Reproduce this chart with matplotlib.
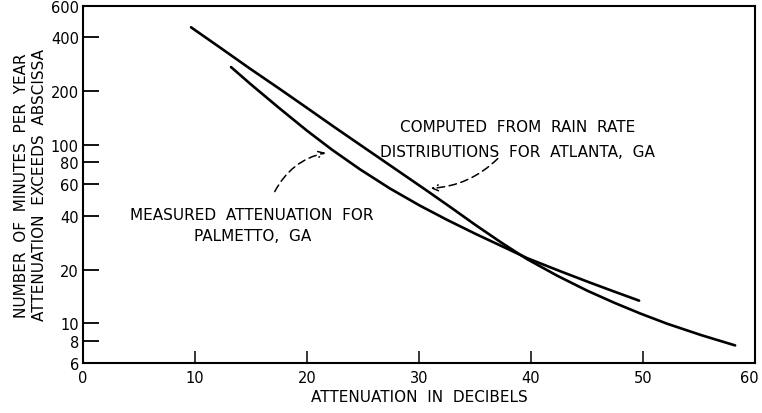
import matplotlib.pyplot as plt
from matplotlib.ticker import FixedLocator, FixedFormatter, NullLocator
from matplotlib.transforms import ScaledTranslation

# attenuation (dB) vs. minutes per year that the attenuation is exceeded
computed_db = [9.64, 12.32, 14.96, 17.5, 20.0, 22.5, 25.0, 27.86, 30.71, 32.86,
               35.0, 37.32, 39.64, 42.32, 45.0, 47.41, 49.73, 52.14, 55.18, 58.21]
computed_min = [456, 348, 266, 207, 161, 125, 97.5, 73.4, 55.3, 44.5,
                35.7, 28.4, 22.9, 18.5, 15.25, 13.05, 11.36, 9.95, 8.59, 7.52]

measured_db = [13.21, 14.96, 17.5, 20.0, 22.23, 24.73, 27.41, 30.09, 32.5, 35.0,
               37.86, 39.64, 42.59, 45.27, 47.5, 49.64]
measured_min = [273, 219, 161, 120, 93.9, 72.9, 56.9, 45.6, 38.0, 31.8,
                26.2, 23.2, 19.6, 16.9, 15.0, 13.4]

y_ticks = [6, 8, 10, 20, 40, 60, 80, 100, 200, 400, 600]
x_ticks = [0, 10, 20, 30, 40, 50, 60]

plt.rcParams['font.family'] = 'DejaVu Sans'
plt.rcParams['font.size'] = 10.5

fig = plt.figure(figsize=(7.62, 4.14), dpi=100)
ax = fig.add_axes([0.109, 0.121, 0.882, 0.862])

ax.plot(computed_db, computed_min, color='black', lw=1.9,
        solid_capstyle='round', solid_joinstyle='round')
ax.plot(measured_db, measured_min, color='black', lw=1.9,
        solid_capstyle='round', solid_joinstyle='round')

ax.set_yscale('log')
ax.set_xlim(0, 60)
ax.set_ylim(6, 600)

ax.yaxis.set_major_locator(FixedLocator(y_ticks))
ax.yaxis.set_major_formatter(FixedFormatter([str(t) for t in y_ticks]))
ax.yaxis.set_minor_locator(NullLocator())
ax.set_xticks(x_ticks)
ax.set_xticklabels([str(t) for t in x_ticks])

ax.tick_params(axis='y', direction='in', length=11.5, width=1.3, pad=3)
ax.tick_params(axis='x', direction='in', length=9, width=1.1, pad=5)
# decade marks are drawn a bit longer
for tick in ax.yaxis.get_major_ticks():
    if tick.get_loc() in (10, 100):
        tick.tick1line.set_markersize(15.5)

# keep the last x label inside the figure
last = ax.get_xticklabels()[-1]
last.set_transform(last.get_transform() + ScaledTranslation(-4 / 72, 0, fig.dpi_scale_trans))

for s in ax.spines.values():
    s.set_linewidth(1.5)

ax.set_xlabel('ATTENUATION  IN  DECIBELS', fontsize=11, labelpad=3)
ax.set_ylabel('NUMBER  OF  MINUTES  PER  YEAR\nATTENUATION  EXCEEDS  ABSCISSA',
              fontsize=11, labelpad=3)

arrow = dict(arrowstyle='->', color='black', lw=1.1, linestyle=(0, (5, 3)))
ax.annotate('COMPUTED  FROM  RAIN  RATE\nDISTRIBUTIONS  FOR  ATLANTA,  GA',
            xy=(30.8, 57), xytext=(38.8, 108), ha='center', va='center',
            fontsize=11, linespacing=1.8)
ax.annotate('', xy=(30.8, 57), xytext=(37.2, 86),
            arrowprops=dict(arrow, connectionstyle='arc3,rad=-0.2'))

ax.annotate('MEASURED  ATTENUATION  FOR\nPALMETTO,  GA',
            xy=(21.9, 91), xytext=(15.1, 35.7), ha='center', va='center',
            fontsize=11, linespacing=1.5)
ax.annotate('', xy=(21.9, 91), xytext=(17.0, 53),
            arrowprops=dict(arrow, connectionstyle='arc3,rad=-0.25'))

fig.savefig('out.png', dpi=100)
